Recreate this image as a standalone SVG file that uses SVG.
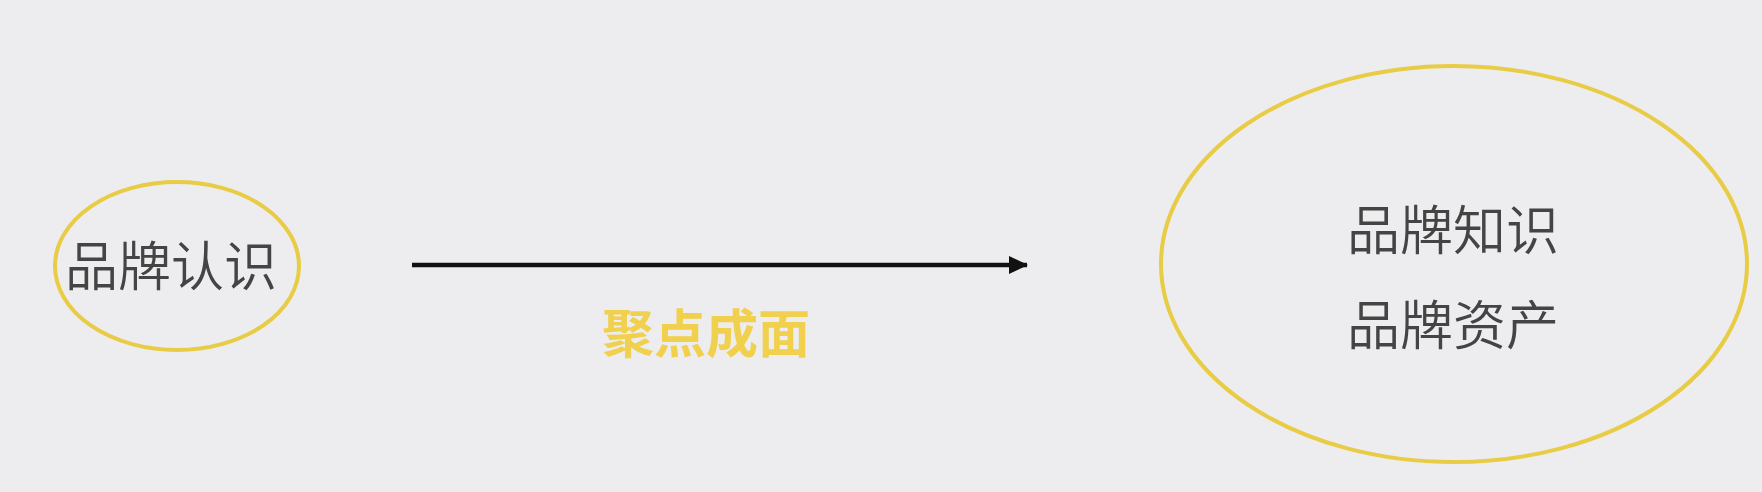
<svg xmlns="http://www.w3.org/2000/svg" width="1762" height="492" viewBox="0 0 1762 492">
<defs>
<style>
.node{fill:none;stroke:#E9CC45;stroke-width:4}
.lbl{font-family:"Noto Sans CJK SC","Liberation Sans",sans-serif;font-size:53px;fill:#444444;text-anchor:middle;font-weight:350}
.edge{font-family:"Noto Sans CJK SC","Liberation Sans",sans-serif;font-size:52px;fill:#F0D04C;text-anchor:middle;font-weight:bold}
</style>
<marker id="ah" markerWidth="20" markerHeight="20" refX="18" refY="10" orient="auto" markerUnits="userSpaceOnUse">
<path d="M0,1 L19,10 L0,19 Z" fill="#111"/>
</marker>
</defs>
<rect width="1762" height="492" fill="#EDECEE"/>
<g id="connectors">
<line x1="412" y1="265" x2="1027" y2="265" stroke="#111" stroke-width="4.5" marker-end="url(#ah)"/>
<text class="edge" x="706" y="353">聚点成面</text>
</g>
<g id="node-left">
<ellipse class="node" cx="177" cy="266" rx="122" ry="84"/>
<text class="lbl" x="171" y="286">品牌认识</text>
</g>
<g id="node-right">
<ellipse class="node" cx="1454" cy="264" rx="293" ry="198"/>
<text class="lbl" x="1453" y="250">品牌知识</text>
<text class="lbl" x="1453" y="345">品牌资产</text>
</g>
</svg>
